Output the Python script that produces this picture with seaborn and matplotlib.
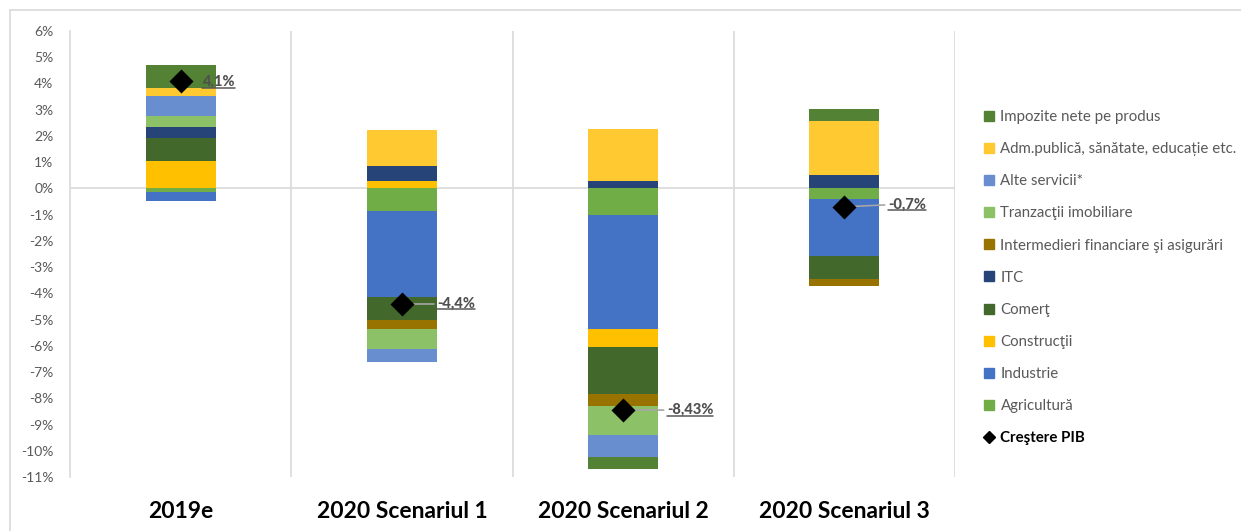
import numpy as np
import pandas as pd
import matplotlib
matplotlib.use("Agg")
import matplotlib.pyplot as plt
from matplotlib.lines import Line2D
import seaborn as sns

# ---------------- data ----------------
categories = ["2019e", "2020 Scenariul 1", "2020 Scenariul 2", "2020 Scenariul 3"]

series_names = ["Agricultură", "Industrie", "Construcţii", "Comerţ", "ITC",
                "Intermedieri financiare şi asigurări", "Tranzacţii imobiliare",
                "Alte servicii*", "Adm.publică, sănătate, educație etc.",
                "Impozite nete pe produs"]

agricultura = [-0.12, -0.85, -1.03, -0.42]
industrie = [-0.35, -3.30, -4.34, -2.16]
constructii = [1.04, 0.30, -0.67, 0.00]
comert = [0.87, -0.87, -1.80, -0.88]
itc = [0.44, 0.54, 0.27, 0.52]
intermedieri = [-0.02, -0.35, -0.47, -0.26]
tranzactii = [0.41, -0.76, -1.09, 0.00]
alte_servicii = [0.75, -0.47, -0.82, 0.00]
adm_publica = [0.30, 1.37, 2.00, 2.04]
impozite = [0.90, 0.00, -0.48, 0.45]

pib = [4.1, -4.4, -8.43, -0.7]
pib_labels = ["4,1%", "-4,4%", "-8,43%", "-0,7%"]

yticks = list(range(-11, 7))

series_colors = ["#70AD47", "#4472C4", "#FFC000", "#43682B", "#264478",
                 "#997300", "#8CC168", "#698ED0", "#FFC932", "#548235"]

series_values = [agricultura, industrie, constructii, comert, itc, intermedieri,
                 tranzactii, alte_servicii, adm_publica, impozite]

# label placement (offset from category centre in category units, y nudge)
label_dx = [0.097, 0.159, 0.198, 0.197]
label_dy = [-0.05, 0.0, -0.02, 0.07]
draw_leader = [False, True, True, True]

# ---------------- style ----------------
sns.set_theme(style="white")
plt.rcParams["font.family"] = ["Lato", "DejaVu Sans"]
plt.rcParams["axes.unicode_minus"] = False

GRAY_TXT = "#595959"
GRID = "#D9D9D9"

fig = plt.figure(figsize=(12.41, 5.31), dpi=100)
W, H = 1241, 531
ax = fig.add_axes([70 / W, 1 - 477 / H, (955 - 70) / W, (477 - 31) / H])

# stacked bars (Excel style: positives and negatives stacked separately)
pos_base = np.zeros(len(categories))
neg_base = np.zeros(len(categories))
for name, vals, col in zip(series_names, series_values, series_colors):
    v = np.array(vals, dtype=float)
    bottoms = np.where(v >= 0, pos_base, neg_base)
    df = pd.DataFrame({"cat": categories, "val": v})
    sns.barplot(data=df, x="cat", y="val", color=col, saturation=1,
                width=0.316, bottom=bottoms, ax=ax, linewidth=0,
                errorbar=None, zorder=2)
    pos_base = pos_base + np.where(v >= 0, v, 0)
    neg_base = neg_base + np.where(v < 0, v, 0)

xpos = np.arange(len(categories))

# leader lines and GDP markers
for i in range(len(categories)):
    lx = xpos[i] + label_dx[i]
    ly = pib[i] + label_dy[i]
    if draw_leader[i]:
        ax.plot([xpos[i], lx - 0.015], [pib[i], ly], color="#A6A6A6", lw=1.2, zorder=3)
ax.scatter(xpos, pib, marker="D", s=150, color="black", zorder=4, linewidths=0)

label_texts = []
for i in range(len(categories)):
    t = ax.text(xpos[i] + label_dx[i], pib[i] + label_dy[i], pib_labels[i],
                ha="left", va="center", fontsize=10.5, fontweight=900,
                color="#505050", zorder=5)
    label_texts.append(t)

# axes styling
ax.set_xlim(-0.5, 3.5)
ax.set_ylim(-11, 6)
ax.set_yticks(yticks)
ax.set_yticklabels([f"{v}%" for v in yticks], color=GRAY_TXT, fontsize=10)
ax.tick_params(axis="y", length=0, pad=12)
ax.tick_params(axis="x", length=0, pad=17)
for lab in ax.get_xticklabels():
    lab.set_fontsize(16.5)
    lab.set_fontweight("bold")
    lab.set_color("black")
ax.set_xlabel("")
ax.set_ylabel("")
for s in ["top", "right", "bottom"]:
    ax.spines[s].set_visible(False)
ax.spines["left"].set_color(GRID)
ax.spines["left"].set_linewidth(1.2)
ax.axhline(0, color=GRID, lw=1.2, zorder=1)
for xb in [0.5, 1.5, 2.5, 3.5]:
    ax.axvline(xb, color=GRID, lw=1.2, zorder=1)
ax.grid(False)

# outer chart border
fig.add_artist(Line2D([10 / W, 10 / W], [0, 1 - 10 / H], color=GRID, lw=1.2))
fig.add_artist(Line2D([10 / W, 1], [1 - 10 / H, 1 - 10 / H], color=GRID, lw=1.2))

# legend
handles = [Line2D([], [], marker="s", ls="", color=c, markersize=7)
           for c in series_colors[::-1]]
labels = series_names[::-1]
handles.append(Line2D([], [], marker="D", ls="", color="black", markersize=6))
labels.append("Creştere PIB")
leg = fig.legend(handles, labels, loc="upper left",
                 bbox_to_anchor=(984 / W, 1 - 110 / H), frameon=False,
                 fontsize=10.8, labelspacing=1.21, handlelength=0.7,
                 handletextpad=0.4, borderaxespad=0, borderpad=0)
for txt in leg.get_texts():
    txt.set_color(GRAY_TXT)
leg.get_texts()[-1].set_color("black")
leg.get_texts()[-1].set_fontweight("bold")

# underline data labels
fig.canvas.draw()
renderer = fig.canvas.get_renderer()
inv = fig.transFigure.inverted()
for t in label_texts:
    bb = t.get_window_extent(renderer)
    (x0, y0), (x1, _) = inv.transform([[bb.x0, bb.y0 + 1.5], [bb.x1, bb.y0 + 1.5]])
    fig.add_artist(Line2D([x0, x1], [y0, y0], color=GRAY_TXT, lw=1.1))

fig.savefig("out.png", dpi=100)
